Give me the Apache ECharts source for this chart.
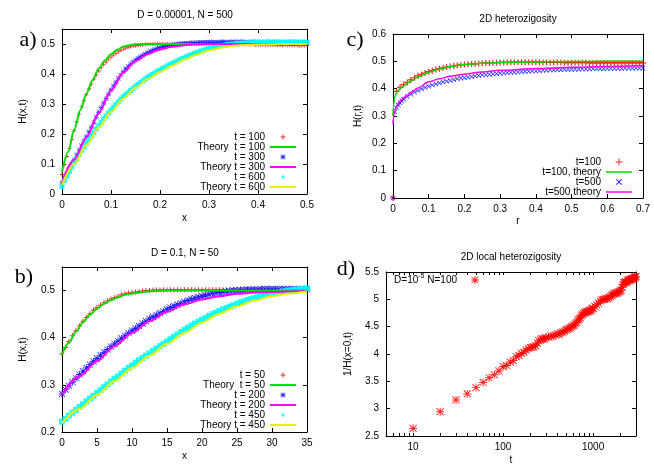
<!DOCTYPE html>
<html>
<head>
<meta charset="utf-8">
<script src="https://cdn.jsdelivr.net/npm/echarts@6/dist/echarts.min.js"></script>
<style>
html, body { margin: 0; padding: 0; background: #fff; }
#chart { width: 654px; height: 468px; }
</style>
</head>
<body>
<div id="chart"></div>
<script>
// ---- panel a) D = 0.00001, N = 500 ----
var aX = [0,0.005,0.01,0.015,0.02,0.025,0.03,0.035,0.04,0.045,0.05,0.055,0.06,0.065,0.07,0.075,0.08,0.085,0.09,0.095,
  0.1,0.105,0.11,0.115,0.12,0.125,0.13,0.135,0.14,0.145,0.15,0.155,0.16,0.165,0.17,0.175,0.18,0.185,0.19,0.195,
  0.2,0.205,0.21,0.215,0.22,0.225,0.23,0.235,0.24,0.245,0.25,0.255,0.26,0.265,0.27,0.275,0.28,0.285,0.29,0.295,
  0.3,0.305,0.31,0.315,0.32,0.325,0.33,0.335,0.34,0.345,0.35,0.355,0.36,0.365,0.37,0.375,0.38,0.385,0.39,0.395,
  0.4,0.405,0.41,0.415,0.42,0.425,0.43,0.435,0.44,0.445,0.45,0.455,0.46,0.465,0.47,0.475,0.48,0.485,0.49,0.495,0.5];
var aT100 = [0.065,0.098,0.125,0.152,0.182,0.212,0.24,0.266,0.29,0.311,0.332,0.35,0.367,0.383,0.397,0.41,0.421,0.431,0.44,0.449,
  0.456,0.463,0.469,0.474,0.479,0.483,0.486,0.489,0.491,0.493,0.494,0.495,0.496,0.497,0.498,0.498,0.499,0.499,0.499,0.5,
  0.5,0.5,0.5,0.5,0.5,0.5,0.5,0.501,0.501,0.5,0.5,0.5,0.5,0.501,0.501,0.5,0.5,0.5,0.5,0.5,
  0.5,0.5,0.5,0.5,0.499,0.5,0.5,0.499,0.499,0.499,0.499,0.498,0.498,0.499,0.499,0.498,0.498,0.498,0.498,0.497,
  0.497,0.497,0.497,0.496,0.496,0.497,0.497,0.496,0.496,0.495,0.495,0.496,0.496,0.495,0.495,0.495,0.495,0.494,0.494,0.495,0.495];
var aT300 = [0.035,0.052,0.068,0.084,0.099,0.114,0.13,0.145,0.161,0.176,0.191,0.207,0.223,0.239,0.256,0.272,0.288,0.303,0.318,0.333,
  0.347,0.36,0.373,0.385,0.396,0.407,0.417,0.425,0.433,0.44,0.446,0.452,0.457,0.462,0.467,0.471,0.475,0.479,0.482,0.485,
  0.487,0.49,0.492,0.494,0.495,0.497,0.498,0.499,0.5,0.501,0.502,0.502,0.503,0.504,0.504,0.504,0.505,0.505,0.505,0.506,
  0.506,0.506,0.506,0.506,0.506,0.507,0.507,0.506,0.506,0.507,0.507,0.507,0.507,0.507,0.507,0.506,0.506,0.507,0.507,0.507,
  0.507,0.506,0.506,0.507,0.507,0.506,0.506,0.506,0.506,0.506,0.506,0.505,0.505,0.506,0.506,0.505,0.505,0.505,0.505,0.505,0.505];
var aT600 = [0.025,0.045,0.06,0.075,0.09,0.104,0.118,0.132,0.145,0.157,0.169,0.181,0.193,0.205,0.217,0.228,0.239,0.25,0.26,0.27,
  0.28,0.289,0.298,0.307,0.316,0.324,0.331,0.338,0.345,0.352,0.359,0.365,0.371,0.377,0.383,0.389,0.394,0.399,0.404,0.409,
  0.413,0.418,0.422,0.427,0.431,0.435,0.439,0.443,0.447,0.451,0.454,0.458,0.461,0.465,0.468,0.471,0.474,0.477,0.48,0.483,
  0.485,0.487,0.489,0.491,0.493,0.495,0.496,0.497,0.498,0.499,0.5,0.501,0.502,0.502,0.503,0.503,0.504,0.504,0.504,0.505,
  0.505,0.505,0.505,0.505,0.506,0.506,0.506,0.506,0.506,0.506,0.506,0.506,0.506,0.506,0.507,0.507,0.506,0.506,0.506,0.506,0.506];
var aTh100X = [0,0.0125,0.025,0.0375,0.05,0.0625,0.075,0.0875,0.1,0.1125,0.125,0.1375,0.15,0.175,0.2,0.3,0.4,0.5];
var aTh100 = [0.073,0.14,0.215,0.28,0.335,0.38,0.418,0.445,0.466,0.481,0.491,0.496,0.499,0.5,0.5,0.5,0.5,0.5];
var aTh300X = [0,0.025,0.05,0.075,0.1,0.125,0.15,0.175,0.2,0.225,0.25,0.275,0.3,0.35,0.4,0.5];
var aTh300 = [0.04,0.115,0.19,0.27,0.345,0.405,0.443,0.467,0.482,0.491,0.496,0.499,0.5,0.5,0.5,0.5];
var aTh600X = [0,0.025,0.05,0.075,0.1,0.125,0.15,0.175,0.2,0.225,0.25,0.275,0.3,0.325,0.35,0.375,0.4,0.45,0.5];
var aTh600 = [0.03,0.1,0.163,0.222,0.274,0.318,0.354,0.383,0.407,0.428,0.448,0.465,0.479,0.488,0.494,0.497,0.498,0.5,0.5];

// ---- panel b) D = 0.1, N = 50 ----
var bX = [0,0.5,1,1.5,2,2.5,3,3.5,4,4.5,5,5.5,6,6.5,7,7.5,8,8.5,9,9.5,10,10.5,11,11.5,12,12.5,13,13.5,14,14.5,15,
  15.5,16,16.5,17,17.5,18,18.5,19,19.5,20,20.5,21,21.5,22,22.5,23,23.5,24,24.5,25,25.5,26,26.5,27,27.5,28,28.5,29,29.5,30,30.5,31,31.5,32,32.5,33,33.5,34,34.5,35];
var bT50 = [0.366,0.379,0.392,0.404,0.415,0.425,0.435,0.443,0.451,0.458,0.464,0.469,0.474,0.478,0.482,0.485,0.488,0.491,0.493,0.495,0.496,0.497,0.498,0.499,0.5,0.5,0.501,0.501,0.501,0.502,0.502,
  0.502,0.502,0.502,0.502,0.502,0.502,0.502,0.502,0.502,0.502,0.502,0.502,0.502,0.502,0.502,0.502,0.502,0.502,0.502,0.502,
  0.502,0.502,0.502,0.501,0.501,0.502,0.502,0.502,0.501,0.502,0.502,0.501,0.501,0.501,0.501,0.501,0.501,0.501,0.501,0.501];
var bT200 = [0.281,0.29,0.298,0.306,0.314,0.322,0.329,0.336,0.343,0.35,0.356,0.363,0.369,0.375,0.381,0.387,0.393,0.399,0.404,0.41,0.415,0.42,0.425,0.43,0.435,0.44,0.444,0.448,0.452,0.456,0.46,
  0.464,0.467,0.47,0.473,0.476,0.479,0.482,0.484,0.486,0.488,0.49,0.492,0.494,0.495,0.496,0.497,0.498,0.499,0.5,0.5,
  0.501,0.501,0.502,0.502,0.502,0.502,0.503,0.503,0.503,0.503,0.503,0.503,0.503,0.503,0.503,0.503,0.503,0.503,0.503,0.503];
var bT450 = [0.222,0.228,0.235,0.241,0.247,0.253,0.259,0.265,0.271,0.277,0.283,0.289,0.295,0.301,0.307,0.313,0.318,0.324,0.33,0.336,0.341,0.347,0.352,0.357,0.362,0.367,0.372,0.377,0.382,0.387,0.392,
  0.397,0.402,0.407,0.412,0.417,0.421,0.426,0.43,0.434,0.438,0.442,0.446,0.45,0.453,0.457,0.46,0.463,0.466,0.469,0.472,
  0.475,0.477,0.48,0.482,0.484,0.486,0.488,0.49,0.492,0.493,0.495,0.496,0.498,0.499,0.5,0.501,0.502,0.503,0.504,0.505];
var bTh50X = [0,1,2,3,4,5,6,7,8,9,10,11,12,13,15,20,25,30,35];
var bTh50 = [0.364,0.39,0.413,0.433,0.449,0.462,0.472,0.48,0.486,0.491,0.494,0.496,0.498,0.499,0.5,0.5,0.5,0.5,0.5];
var bThX = [0,2.5,5,7.5,10,12.5,15,17.5,20,22.5,25,27.5,30,32.5,35];
var bTh200 = [0.279,0.318,0.35,0.382,0.41,0.435,0.455,0.471,0.481,0.488,0.493,0.496,0.497,0.498,0.499];
var bTh450 = [0.219,0.249,0.279,0.308,0.336,0.362,0.387,0.41,0.432,0.451,0.467,0.479,0.488,0.494,0.498];

// ---- panel c) 2D heterozigosity ----
var cRedX = [0,0.01,0.02,0.03,0.04,0.05,0.06,0.07,0.08,0.09,0.1,0.11,0.12,0.13,0.14,0.15,0.16,0.17,0.18,0.19,0.2,0.21,0.22,0.23,0.24,0.25,0.26,0.27,0.28,0.29,0.3,0.31,0.32,0.33,0.34,
  0.35,0.36,0.37,0.38,0.39,0.4,0.41,0.42,0.43,0.44,0.45,0.46,0.47,0.48,0.49,0.5,0.51,0.52,0.53,0.54,0.55,0.56,0.57,0.58,0.59,0.6,0.61,0.62,0.63,0.64,0.65,0.66,0.67,0.68,0.69,0.7];
var cT100 = [0,0.39,0.405,0.415,0.423,0.432,0.44,0.447,0.452,0.457,0.462,0.466,0.47,0.473,0.476,0.479,0.481,0.483,0.485,0.487,0.488,0.489,0.49,0.491,0.492,0.493,0.494,0.494,0.495,0.495,0.496,0.496,0.496,0.497,0.497,
  0.497,0.497,0.497,0.497,0.497,0.497,0.497,0.496,0.496,0.496,0.496,0.496,0.496,0.495,0.495,0.495,0.495,0.495,0.495,0.495,0.494,0.494,0.494,0.494,0.494,0.494,0.494,0.494,0.494,0.494,0.494,0.494,0.494,0.494,0.494,0.494];
var cBlueX = [0,0.005,0.01,0.015,0.02,0.025,0.03,0.04,0.05,0.06,0.07,0.08,0.09,0.1,0.11,0.12,0.13,0.14,0.15,0.16,0.17,0.18,0.19,0.2,0.21,0.22,0.23,0.24,0.25,
  0.26,0.27,0.28,0.29,0.3,0.31,0.32,0.33,0.34,0.35,0.36,0.37,0.38,0.39,0.4,0.41,0.42,0.43,0.44,0.45,0.46,0.47,0.48,0.49,0.5,0.51,0.52,0.53,0.54,0.55,0.56,0.57,0.58,0.59,0.6,0.61,0.62,0.63,0.64,0.65,0.66,0.67,0.68,0.69,0.7];
var cT500 = [0,0.315,0.33,0.34,0.348,0.355,0.361,0.371,0.38,0.387,0.393,0.399,0.404,0.409,0.413,0.417,0.421,0.424,0.427,0.43,0.433,0.436,0.438,0.44,0.442,0.444,0.446,0.448,0.45,
  0.451,0.452,0.454,0.455,0.456,0.457,0.458,0.459,0.46,0.461,0.462,0.463,0.464,0.465,0.465,0.466,0.467,0.467,0.468,0.468,0.469,0.469,0.47,0.47,0.471,0.471,0.471,0.472,0.472,0.472,0.473,0.473,0.473,0.473,0.474,0.474,0.474,0.474,0.474,0.475,0.475,0.475,0.475,0.475,0.475];
var cThX = [0,0.002,0.005,0.01,0.015,0.02,0.03,0.04,0.05,0.07,0.1,0.13,0.16,0.2,0.25,0.3,0.4,0.5,0.6,0.7];
var cTh100 = [0.3,0.345,0.37,0.385,0.394,0.401,0.411,0.42,0.428,0.443,0.46,0.472,0.481,0.488,0.493,0.496,0.498,0.499,0.5,0.5];
var cTh500 = [0.27,0.3,0.32,0.337,0.347,0.355,0.367,0.377,0.386,0.402,0.425,0.436,0.445,0.453,0.461,0.467,0.474,0.478,0.481,0.484];

// ---- panel d) 2D local heterozigosity ----
var dT = [10,20,30,40,50,60,70,80,90,100,
  110,120,130,140,150,160,170,180,190,200,210,220,230,240,250,260,270,280,290,300,
  320,340,360,380,400,420,440,460,480,500,520,540,560,580,600,620,640,660,680,700,720,740,760,780,800,820,840,860,880,900,920,940,960,980,1000,
  1050,1100,1150,1200,1250,1300,1350,1400,1450,1500,1550,1600,1650,1700,1750,1800,1850,1900,1950,2000,2050,2100,2150,2200,2250,2300,2350,2400,2450,2500,2550,2600,2650,2700,2750,2800,2850,2900,2950,3000];
var dInvH = [2.64,2.945,3.16,3.27,3.385,3.48,3.565,3.62,3.69,3.77,
  3.79,3.85,3.88,3.95,3.97,4.01,4.03,4.07,4.1,4.12,4.12,4.13,4.15,4.2,4.24,4.26,4.28,4.27,4.28,4.3,
  4.31,4.33,4.32,4.35,4.37,4.36,4.39,4.4,4.42,4.44,4.45,4.47,4.48,4.5,4.52,4.53,4.56,4.58,4.62,4.64,4.66,4.7,4.72,4.74,4.76,4.75,4.77,4.78,4.77,4.79,4.8,4.79,4.81,4.83,4.84,
  4.87,4.9,4.93,4.97,4.99,5.0,5.0,5.02,5.01,5.03,5.05,5.07,5.08,5.1,5.11,5.12,5.11,5.13,5.14,5.15,5.17,5.22,5.27,5.3,5.31,5.32,5.3,5.33,5.35,5.36,5.34,5.37,5.36,5.38,5.37,5.39,5.38,5.41,5.4,5.42];
var dLabelTicks = [10, 100, 1000];
var dAllTicks = [6,7,8,9,10,20,30,40,50,60,70,80,90,100,200,300,400,500,600,700,800,900,1000,2000,3000];

var FONT = '"Liberation Sans", Arial, sans-serif';
var RED = '#ff0000', GREEN = '#00dd00', BLUE = '#0000ff', MAGENTA = '#ff00ff', CYAN = '#00ffff', YELLOW = '#eeee00';

// point shapes (gnuplot-like)
var PLUS = 'path://M4,0H6V4H10V6H6V10H4V6H0V4H4Z';
var CROSS = 'path://M0,1L1,0L5,4L9,0L10,1L6,5L10,9L9,10L5,6L1,10L0,9L4,5Z';
var STAR = 'path://M4.4,0H5.6V4.4H10V5.6H5.6V10H4.4V5.6H0V4.4H4.4Z M1,0.2L5,4.2L9,0.2L9.8,1L5.8,5L9.8,9L9,9.8L5,5.8L1,9.8L0.2,9L4.2,5L0.2,1Z';
// legend samples drawn in a 26x10 box
var L_PLUS = 'path://M0,0M26,10M12.5,2.5H13.5V4.5H15.5V5.5H13.5V7.5H12.5V5.5H10.5V4.5H12.5Z';
var L_STAR = 'path://M0,0M26,10M12.6,2.5H13.4V4.6H15.5V5.4H13.4V7.5H12.6V5.4H10.5V4.6H12.6Z M10.9,2.5L13,4.4L15.1,2.5L15.5,2.9L13.4,5L15.5,7.1L15.1,7.5L13,5.6L10.9,7.5L10.5,7.1L12.6,5L10.5,2.9Z';
var L_SQUARE = 'path://M0,0M26,10M11.5,3.5H14.5V6.5H11.5Z';
var L_LINE = 'path://M0,0M26,10M0,4H26V6H0Z';
var L_LINE_C = 'path://M0,0M26,10M0,4.25H26V5.75H0Z';
var L_PLUS_C = 'path://M0,0M26,10M12.5,1.5H13.5V4.5H16.5V5.5H13.5V8.5H12.5V5.5H9.5V4.5H12.5Z';
var L_CROSS_C = 'path://M0,0M26,10M10,2.7L10.7,2L13,4.3L15.3,2L16,2.7L13.7,5L16,7.3L15.3,8L13,5.7L10.7,8L10,7.3L12.3,5Z';
var L_STAR_D = 'path://M0,0M26,10M12.5,1H13.5V4.5H17V5.5H13.5V9H12.5V5.5H9V4.5H12.5Z M9.8,1.5L13,4.3L16.2,1.5L16.7,2L13.7,5L16.7,8L16.2,8.5L13,5.7L9.8,8.5L9.3,8L12.3,5L9.3,2Z';

function pairs(xs, ys) {
  return xs.map(function (x, i) { return [x, ys[i]]; });
}

// one bottom/left axis with labels and one top/right mirror with ticks only
function axes(dim, gi, o) {
  var common = {
    gridIndex: gi,
    type: o.type || 'value',
    min: o.min, max: o.max,
    axisLine: { show: true, onZero: false, lineStyle: { color: '#000', width: 1 } },
    axisTick: { show: true, inside: true, length: 4, lineStyle: { color: '#000', width: 1 } },
    splitLine: { show: false },
    silent: true
  };
  if (o.interval) common.interval = o.interval;
  if (o.type === 'log') common.logBase = 10;
  var main = Object.assign({}, common, {
    position: dim === 'x' ? 'bottom' : 'left',
    axisLabel: Object.assign({ color: '#000', fontSize: 10, fontFamily: FONT, margin: dim === 'x' ? 6 : 7, hideOverlap: false }, o.label || {}),
    name: o.name, nameLocation: 'middle', nameGap: o.gap,
    nameTextStyle: { color: '#000', fontSize: 10, fontFamily: FONT }
  });
  var mirror = Object.assign({}, common, {
    position: dim === 'x' ? 'top' : 'right',
    axisLabel: { show: false }
  });
  if (o.tick) {
    main.axisTick = Object.assign({}, common.axisTick, o.tick);
    mirror.axisTick = Object.assign({}, common.axisTick, o.tick);
  }
  return [main, mirror];
}

var xAxis = [].concat(
  axes('x', 0, { min: 0, max: 0.5, interval: 0.1, name: 'x', gap: 19 }),
  axes('x', 1, { min: 0, max: 35, interval: 5, name: 'x', gap: 19 }),
  axes('x', 2, { min: 0, max: 0.7, interval: 0.1, name: 'r', gap: 18 }),
  axes('x', 3, { type: 'log', min: 5, max: 3000, name: 't', gap: 19,
    label: { customValues: dLabelTicks, formatter: function (v) { return dLabelTicks.indexOf(Math.round(v)) >= 0 ? String(Math.round(v)) : ''; } },
    tick: { customValues: dAllTicks, length: 3 } })
);
var yAxis = [].concat(
  axes('y', 0, { min: 0, max: 0.55, interval: 0.1, name: 'H(x,t)', gap: 34, label: { showMaxLabel: false } }),
  axes('y', 1, { min: 0.2, max: 0.55, interval: 0.1, name: 'H(x,t)', gap: 34, label: { showMaxLabel: false } }),
  axes('y', 2, { min: 0, max: 0.6, interval: 0.1, name: 'H(r,t)', gap: 30 }),
  axes('y', 3, { min: 2.5, max: 5.5, interval: 0.5, name: '1/H(x=0,t)', gap: 33 })
);

function pts(name, ax, xs, ys, color, symbol, size) {
  return {
    name: name, type: 'scatter', xAxisIndex: ax, yAxisIndex: ax,
    data: pairs(xs, ys), symbol: symbol, symbolSize: size,
    itemStyle: { color: color, opacity: 0.85 }, silent: true
  };
}
function theory(name, ax, xs, ys, color, width) {
  return {
    name: name, type: 'line', xAxisIndex: ax, yAxisIndex: ax,
    data: pairs(xs, ys), symbol: 'none', showSymbol: false,
    smooth: 0.3, smoothMonotone: 'x',
    lineStyle: { color: color, width: width }, itemStyle: { color: color }, silent: true
  };
}

var series = [
  pts('t = 100', 0, aX, aT100, RED, PLUS, 4),
  theory('Theory  t = 100', 0, aTh100X, aTh100, GREEN, 2),
  pts('t = 300', 0, aX, aT300, BLUE, STAR, 5),
  theory('Theory t = 300', 0, aTh300X, aTh300, MAGENTA, 2),
  pts('t = 600', 0, aX, aT600, CYAN, 'rect', 5),
  theory('Theory t = 600', 0, aTh600X, aTh600, YELLOW, 2),

  pts('t = 50', 2, bX, bT50, RED, PLUS, 5),
  theory('Theory  t = 50', 2, bTh50X, bTh50, GREEN, 2),
  pts('t = 200', 2, bX, bT200, BLUE, STAR, 7),
  theory('Theory t = 200', 2, bThX, bTh200, MAGENTA, 2),
  pts('t = 450', 2, bX, bT450, CYAN, 'rect', 6),
  theory('Theory t = 450', 2, bThX, bTh450, YELLOW, 2),

  pts('t=100', 4, cRedX, cT100, RED, PLUS, 6),
  theory('t=100, theory', 4, cThX, cTh100, GREEN, 1.5),
  pts('t=500', 4, cBlueX, cT500, BLUE, CROSS, 5),
  theory('t=500 theory', 4, cThX, cTh500, MAGENTA, 1.5),

  pts('D=10^-5 N=100', 6, dT, dInvH, RED, STAR, 8)
];

function legend(right, top, data, extra) {
  return Object.assign({
    orient: 'vertical', align: 'right', right: right, top: top,
    itemWidth: 26, itemHeight: 10, itemGap: 0, padding: 0,
    selectedMode: false, data: data,
    textStyle: { color: '#000', fontSize: 10, fontFamily: FONT, lineHeight: 10 }
  }, extra || {});
}

var option = {
  animation: false,
  backgroundColor: '#fff',
  grid: [
    { left: 62, top: 29, width: 245, height: 165, containLabel: false, outerBoundsMode: 'none' },
    { left: 62, top: 267, width: 245, height: 165, containLabel: false, outerBoundsMode: 'none' },
    { left: 393, top: 34, width: 250, height: 164, containLabel: false, outerBoundsMode: 'none' },
    { left: 386, top: 272, width: 250, height: 164, containLabel: false, outerBoundsMode: 'none' }
  ],
  xAxis: xAxis,
  yAxis: yAxis,
  legend: [
    legend(358, 132, [{ name: 't = 100', icon: L_PLUS }, { name: 'Theory  t = 100', icon: L_LINE }, { name: 't = 300', icon: L_STAR },
      { name: 'Theory t = 300', icon: L_LINE }, { name: 't = 600', icon: L_SQUARE }, { name: 'Theory t = 600', icon: L_LINE }]),
    legend(358, 370, [{ name: 't = 50', icon: L_PLUS }, { name: 'Theory  t = 50', icon: L_LINE }, { name: 't = 200', icon: L_STAR },
      { name: 'Theory t = 200', icon: L_LINE }, { name: 't = 450', icon: L_SQUARE }, { name: 'Theory t = 450', icon: L_LINE }]),
    legend(22, 157, [{ name: 't=100', icon: L_PLUS_C }, { name: 't=100, theory', icon: L_LINE_C }, { name: 't=500', icon: L_CROSS_C }, { name: 't=500 theory', icon: L_LINE_C }]),
    legend(166, 273, [{ name: 'D=10^-5 N=100', icon: L_STAR_D }], {
      formatter: function () { return '{n|D=10}{s|-5}{n| N=100}'; },
      textStyle: { color: '#000', fontSize: 10, fontFamily: FONT,
        rich: { n: { fontSize: 10, fontFamily: FONT, color: '#000' }, s: { fontSize: 7, fontFamily: FONT, color: '#000', padding: [0, 0, 7, 0] } } }
    })
  ],
  graphic: [
    { type: 'text', x: 185, y: 15, style: { text: 'D = 0.00001, N = 500', font: '10px ' + FONT, fill: '#000', align: 'center', verticalAlign: 'middle' } },
    { type: 'text', x: 518, y: 19, style: { text: '2D heterozigosity', font: '10px ' + FONT, fill: '#000', align: 'center', verticalAlign: 'middle' } },
    { type: 'text', x: 185, y: 253, style: { text: 'D = 0.1, N = 50', font: '10px ' + FONT, fill: '#000', align: 'center', verticalAlign: 'middle' } },
    { type: 'text', x: 511, y: 257, style: { text: '2D local heterozigosity', font: '10px ' + FONT, fill: '#000', align: 'center', verticalAlign: 'middle' } },
    { type: 'text', x: 28, y: 40, style: { text: 'a)', font: '22px "Liberation Serif", serif', fill: '#000', align: 'center', verticalAlign: 'middle' } },
    { type: 'text', x: 355, y: 40, style: { text: 'c)', font: '22px "Liberation Serif", serif', fill: '#000', align: 'center', verticalAlign: 'middle' } },
    { type: 'text', x: 24, y: 277, style: { text: 'b)', font: '22px "Liberation Serif", serif', fill: '#000', align: 'center', verticalAlign: 'middle' } },
    { type: 'text', x: 346, y: 269, style: { text: 'd)', font: '22px "Liberation Serif", serif', fill: '#000', align: 'center', verticalAlign: 'middle' } }
  ],
  series: series
};

var chart = echarts.init(document.getElementById('chart'), null, { renderer: 'canvas' });
chart.setOption(option);
</script>
</body>
</html>
